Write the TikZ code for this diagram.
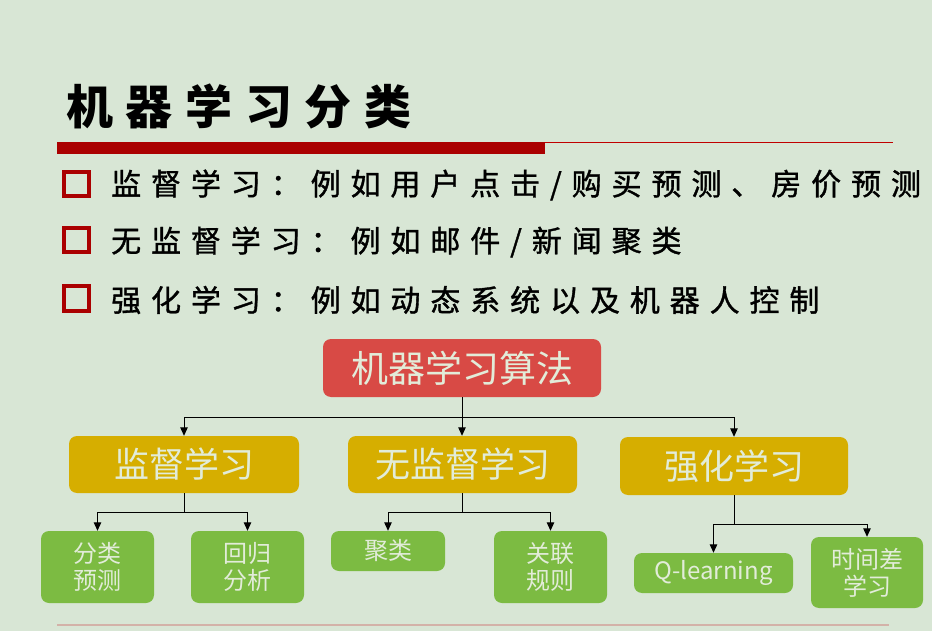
\documentclass[tikz,border=0pt]{standalone}
\usepackage{fontspec}
\usetikzlibrary{arrows.meta}
\newfontfamily\cjk{Noto Sans CJK SC}
\newfontfamily\cjkwide[LetterSpace=33, FakeBold=1.2]{Noto Sans CJK SC}
\newfontfamily\cjktitle[LetterSpace=27]{Noto Sans CJK SC}
\definecolor{pagebg}{HTML}{D8E6D5}
\definecolor{barred}{HTML}{AA0000}
\definecolor{linered}{HTML}{C00000}
\definecolor{rootred}{HTML}{D84A45}
\definecolor{gold}{HTML}{D6AE00}
\definecolor{leafgreen}{HTML}{7CBB42}
\definecolor{boxtext}{HTML}{E2ECD9}
\definecolor{footline}{HTML}{D3B2A8}
\begin{document}
\begin{tikzpicture}[x=1pt,y=-1pt,
  box/.style={rounded corners=8pt, inner sep=0pt, align=center,
    text=boxtext, font=\cjk},
  rootbox/.style={box, fill=rootred, minimum width=278pt, minimum height=58pt,
    font=\cjk\fontsize{37}{40}\selectfont},
  midbox/.style={box, fill=gold, minimum width=229pt, minimum height=57pt,
    font=\cjk\fontsize{35}{38}\selectfont},
  leafbox/.style={box, fill=leafgreen, minimum width=113pt,
    font=\cjk\fontsize{24}{27}\selectfont},
  arr/.style={draw=black, line width=1pt, -{Triangle[width=7.5pt,length=8.5pt]}},
  trunk/.style={draw=black, line width=1pt},
  bullet/.style={draw=barred, line width=3.5pt},
  bullettext/.style={anchor=west, inner sep=0pt, text=black,
    font=\cjkwide\fontsize{30}{33}\selectfont}]
\useasboundingbox (0,0) rectangle (932,631);
\fill[pagebg] (0,0) rectangle (932,631);

% heading and rule
\node[anchor=west, inner sep=0pt, text=black,
  font=\cjktitle\bfseries\fontsize{47}{50}\selectfont] (title) at (66,106) {机器学习分类};
\fill[barred] (57,142) rectangle (545,154);
\draw[linered, line width=1.4pt] (545,142.7) -- (893,142.7);

% bullet list
\draw[bullet] (64,172) rectangle (89,196);
\draw[bullet] (64,228) rectangle (89,252);
\draw[bullet] (64,286) rectangle (89,311);
\node[bullettext] (b1) at (111,185) {监督学习：例如用户点击/购买预测、房价预测};
\node[bullettext] (b2) at (111,242) {无监督学习：例如邮件/新闻聚类};
\node[bullettext] (b3) at (111,300) {强化学习：例如动态系统以及机器人控制};

% tree
\node[rootbox] (root) at (462,368) {机器学习算法};
\node[midbox, minimum width=230pt] (sup) at (184,464.5) {监督学习};
\node[midbox] (unsup) at (462.5,464.5) {无监督学习};
\node[midbox, minimum width=228pt, minimum height=58pt] (rl) at (734,466) {强化学习};

\node[leafbox, minimum height=72pt] (cls) at (97.5,567) {分类\\预测};
\node[leafbox, minimum height=72pt] (reg) at (247.5,567) {回归\\分析};
\node[leafbox, minimum width=114pt, minimum height=40pt] (clu) at (388,551) {聚类};
\node[leafbox, minimum height=72pt] (assoc) at (550.5,567) {关联\\规则};
\node[leafbox, minimum width=159pt, minimum height=40pt] (ql) at (713.5,573) {Q-learning};
\node[leafbox, minimum width=112pt, minimum height=71pt] (td) at (867,572.5) {时间差\\学习};

\coordinate (j0) at (462,417);
\coordinate (j1) at (184,512);
\coordinate (j2) at (462,512);
\coordinate (j3) at (734,524);

\draw[trunk] (root.south) -- (j0);
\draw[arr] (j0) -| (sup.north);
\draw[arr] (j0) -- (unsup.north -| j0);
\draw[arr] (j0) -| (rl.north);

\draw[trunk] (sup.south) -- (j1);
\draw[arr] (j1) -| (cls.north);
\draw[arr] (j1) -| (reg.north);

\draw[trunk] (unsup.south -| j2) -- (j2);
\draw[arr] (j2) -| (clu.north);
\draw[arr] (j2) -| (assoc.north);

\draw[trunk] (rl.south) -- (j3);
\draw[arr] (j3) -| (ql.north);
\draw[arr] (j3) -| (td.north);

% footer rule
\draw[footline, line width=1.8pt] (57,625) -- (889,625);
\end{tikzpicture}
\end{document}
